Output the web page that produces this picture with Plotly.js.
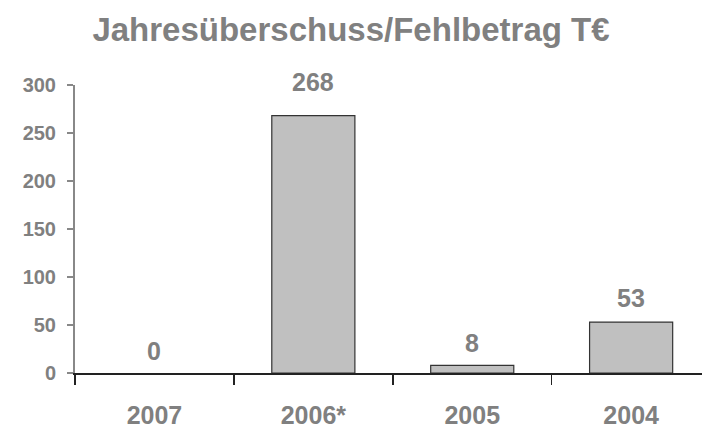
<!DOCTYPE html>
<html>
<head>
<meta charset="utf-8">
<script src="https://cdn.plot.ly/plotly-3.0.1.min.js"></script>
<style>
  html, body { margin: 0; padding: 0; background: #fff; }
  #myPlot { width: 702px; height: 430px; }
</style>
</head>
<body>
<div id="myPlot"></div>
<script>
/**
 * Data
 */
const years = ["2007", "2006*", "2005", "2004"];
const values = [0, 268, 8, 53];
const yTicks = [0, 50, 100, 150, 200, 250, 300];

const FONT = "Liberation Sans, Arial, sans-serif";
const GREY = "#808080";

const myPlot = document.getElementById("myPlot");

const data = [
  {
    type: "bar",
    x: years,
    y: values,
    marker: {
      color: "#c0c0c0",
      // an empty bar gets no outline
      line: { color: "#333333", width: values.map(v => (v ? 1.2 : 0)) }
    },
    hoverinfo: "x+y"
  }
];

// value labels above the bars (x given as category index, "2007" would be read as a number)
const labels = values.map((v, i) => ({
  x: i,
  y: v,
  xref: "x",
  yref: "y",
  text: String(v),
  showarrow: false,
  yanchor: "middle",
  yshift: 22 + v * 0.045,
  font: { family: FONT, size: 25, color: GREY, weight: 700 }
}));

const layout = {
  width: 702,
  height: 430,
  margin: { l: 75, r: 0, t: 85, b: 57 },
  paper_bgcolor: "#ffffff",
  plot_bgcolor: "#ffffff",
  showlegend: false,
  bargap: 0.477,
  title: {
    text: "Jahresüberschuss/Fehlbetrag T€",
    font: { family: FONT, size: 33, color: GREY, weight: 700 },
    x: 0.5,
    xanchor: "center",
    xref: "container",
    y: 1 - 29 / 430,
    yref: "container",
    yanchor: "middle"
  },
  xaxis: {
    type: "category",
    range: [-0.5, 3.446],
    showline: true,
    linecolor: "#222222",
    linewidth: 2,
    ticks: "outside",
    tickson: "boundaries",
    ticklen: 10,
    tickwidth: 1.5,
    tickcolor: "#222222",
    ticklabelstandoff: 19,
    showgrid: false,
    zeroline: false,
    tickfont: { family: FONT, size: 25, color: GREY, weight: 700 },
    fixedrange: true
  },
  yaxis: {
    range: [0, 300],
    tickvals: yTicks,
    showline: true,
    linecolor: "#888888",
    linewidth: 2,
    ticks: "outside",
    ticklen: 6,
    tickwidth: 1.5,
    tickcolor: "#888888",
    ticklabelstandoff: 7,
    showgrid: false,
    zeroline: false,
    tickfont: { family: FONT, size: 20, color: GREY, weight: 700 },
    fixedrange: true
  },
  annotations: labels
};

Plotly.newPlot(myPlot, data, layout, { displayModeBar: false, staticPlot: true });
</script>
</body>
</html>
